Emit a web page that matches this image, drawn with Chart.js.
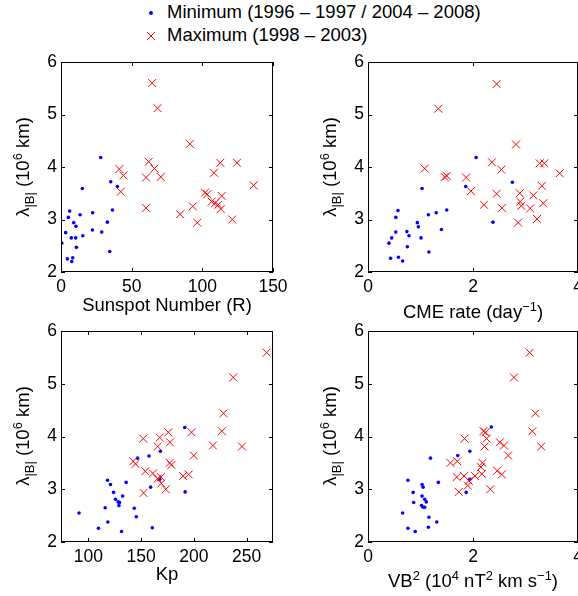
<!DOCTYPE html>
<html>
<head>
<meta charset="utf-8">
<script src="https://cdn.jsdelivr.net/npm/chart.js@4.4.1/dist/chart.umd.min.js"></script>
<style>
    html, body { margin: 0; padding: 0; background: #fff; overflow: hidden; }
    body { width: 578px; height: 596px; position: relative; font-family: "Liberation Sans", Arial, sans-serif; color: #000; }
    canvas { position: absolute; }
    .lbl { position: absolute; white-space: nowrap; font-size: 18.5px; line-height: 18px; }
    .lbl sup { font-size: 70%; vertical-align: 0; position: relative; top: -0.55em; }
    .lbl sub { font-size: 70%; vertical-align: 0; position: relative; top: 0.35em; }
    .ylbl { transform: translate(-50%, -50%) rotate(-90deg); }
    .xlbl { transform: translateX(-50%); }
    .dot { position: absolute; width: 4px; height: 4px; border-radius: 50%; background: #0000ff; }
    .cross { position: absolute; width: 8px; height: 8px; }
    .frame { position: absolute; box-sizing: border-box; border: 1px solid #000; }
    .tick { position: absolute; background: #000; }
</style>
</head>
<body>

<div class="dot" style="left:149px; top:11px"></div>
<svg class="cross" style="left:147px; top:32px" viewBox="0 0 8 8"><path d="M0 0L8 8M8 0L0 8" stroke="#ff0000" stroke-width="1"/></svg>
<div class="lbl" style="left:167px; top:3px">Minimum (1996 – 1997 / 2004 – 2008)</div>
<div class="lbl" style="left:167px; top:26px">Maximum (1998 – 2003)</div>

<canvas id="c1"></canvas>
<canvas id="c2"></canvas>
<canvas id="c3"></canvas>
<canvas id="c4"></canvas>

<script>
// y axis is the same for all four panels
const yTicks = [2, 3, 4, 5, 6]

// panel 1 : sunspot number
const sunspotTicks = [0, 50, 100, 150]
const sunspotMin = [[0.5,2.55],[3.3,2.75],[4.5,2.25],[5.2,3.04],[6.1,3.16],[7.3,2.65],[7.6,2.20],[8.3,2.27],[9.0,2.94],[10.4,2.65],[10.6,2.87],[10.9,2.47],[13.5,3.09],[15.1,3.59],[15.4,2.69],[22.2,2.80],[22.4,3.13],[28.1,4.18],[28.8,2.76],[32.8,2.95],[34.5,2.39],[35.2,3.72],[36.4,3.18],[39.9,3.63]]
const sunspotMax = [[64.5,5.60],[68.3,5.12],[91.2,4.44],[62.1,4.10],[66.1,3.97],[41.3,3.96],[44.2,3.84],[60.2,3.80],[70.6,3.81],[42.3,3.53],[60.2,3.22],[84.3,3.10],[93.2,3.25],[96.4,2.94],[108.3,3.89],[112.7,4.08],[124.5,4.08],[136.3,3.65],[101.9,3.51],[103.5,3.48],[106.6,3.34],[109.0,3.31],[111.3,3.28],[113.7,3.45],[113.0,3.20],[121.2,3.00]]

// panel 2 : CME rate
const cmeTicks = [0, 2, 4]
const cmeMin = [[0.40,2.55],[0.43,2.26],[0.45,2.65],[0.53,3.04],[0.53,2.76],[0.57,3.17],[0.58,2.28],[0.66,2.21],[0.74,2.77],[0.75,2.48],[0.78,2.69],[0.94,2.94],[0.96,2.86],[1.01,2.65],[1.03,3.59],[1.15,3.09],[1.16,2.38],[1.30,3.13],[1.40,2.81],[1.50,3.18],[1.86,3.63],[2.06,4.18],[2.38,2.95],[2.75,3.71]]
const cmeMax = [[1.08,3.97],[1.34,5.11],[1.46,3.81],[1.50,3.83],[1.87,3.80],[1.96,3.54],[2.21,3.28],[2.36,4.09],[2.45,5.58],[2.45,3.49],[2.54,3.95],[2.55,3.22],[2.82,4.43],[2.86,2.94],[2.89,3.50],[2.90,3.34],[2.92,3.26],[3.09,3.21],[3.15,3.46],[3.22,3.01],[3.27,4.07],[3.36,4.07],[3.31,3.64],[3.34,3.31],[3.65,3.88]]

// panel 3 : Kp
const kpTicks = [100, 150, 200, 250]
const kpMin = [[91.1,2.55],[109.5,2.26],[115.9,2.65],[118.1,3.17],[118.4,2.38],[120.9,3.09],[123.8,2.94],[125.7,2.81],[128.2,2.76],[128.9,2.69],[131.4,2.20],[132.4,2.87],[135.8,3.13],[143.5,2.64],[145.4,2.48],[146.6,3.59],[157.4,3.63],[159.0,3.04],[160.6,2.27],[168.2,3.72],[167.6,3.19],[191.3,4.17],[191.7,2.95],[129.5,2.75]]
const kpMax = [[269.0,5.59],[237.3,5.12],[228.1,4.44],[226.5,4.10],[197.7,4.08],[175.8,4.08],[152.0,3.96],[167.6,3.98],[177.4,3.89],[165.7,3.81],[218.0,3.83],[245.6,3.81],[199.9,3.64],[142.5,3.53],[144.7,3.48],[177.1,3.50],[178.7,3.46],[153.9,3.34],[161.2,3.30],[168.8,3.23],[165.5,3.20],[169.1,3.11],[173.3,3.00],[189.8,3.25],[195.1,3.28],[152.3,2.93]]

// panel 4 : VB^2
const vbTicks = [0, 2, 4]
const vbMin = [[0.66,2.55],[0.76,3.17],[0.76,2.26],[0.86,2.94],[0.87,2.75],[0.90,2.20],[1.03,3.09],[1.05,3.04],[1.03,2.87],[1.02,2.69],[1.05,2.66],[1.08,2.66],[1.08,2.81],[1.11,2.76],[1.16,2.47],[1.15,2.28],[1.19,3.59],[1.31,2.38],[1.34,3.13],[1.71,3.64],[1.87,2.94],[1.94,3.72],[1.94,3.19],[2.35,4.18]]
const vbMax = [[3.08,5.59],[2.78,5.12],[3.19,4.44],[3.13,4.10],[3.30,3.81],[1.84,3.96],[2.20,4.10],[2.24,4.08],[2.26,3.96],[2.22,3.81],[2.51,3.89],[2.59,3.83],[2.67,3.64],[1.57,3.50],[1.70,3.53],[2.18,3.50],[2.15,3.42],[2.17,3.29],[2.46,3.35],[2.55,3.28],[1.69,3.23],[1.83,3.25],[1.92,3.16],[2.04,3.25],[1.90,3.07],[1.73,2.95],[2.33,3.00]]

const tickFont = { family: '"Liberation Sans", Arial, sans-serif', size: 17.5 }

function toPoints(arr) {
    return arr.map(p => ({ x: p[0], y: p[1] }))
}

function addDiv(cls, left, top, w, h) {
    const d = document.createElement('div')
    d.className = cls
    d.style.left = left + 'px'
    d.style.top = top + 'px'
    d.style.width = w + 'px'
    d.style.height = h + 'px'
    document.body.appendChild(d)
}

// matlab style box with short inward ticks, placed from the chart's own area and scales
function drawFrame(chart, offX, offY) {
    const a = chart.chartArea
    const xs = chart.scales.x, ys = chart.scales.y
    const l = offX + Math.round(a.left), r = offX + Math.round(a.right)
    const t = offY + Math.round(a.top), b = offY + Math.round(a.bottom)
    const len = 4
    addDiv('frame', l, t, r - l, b - t)
    xs.ticks.forEach(tk => {
        const px = offX + Math.round(xs.getPixelForValue(tk.value))
        addDiv('tick', px, b - len, 1, len)
        addDiv('tick', px, t, 1, len)
    })
    ys.ticks.forEach(tk => {
        const py = offY + Math.round(ys.getPixelForValue(tk.value))
        addDiv('tick', l, py, len, 1)
        addDiv('tick', r - len, py, len, 1)
    })
}

// L,T,R,B = where the plot box sits on the page
function makePanel(id, box, minPts, maxPts, xMin, xMax, xTicks) {
    const cv = document.getElementById(id)
    const offX = box.L - 61
    const offY = box.T - 16
    cv.width = (box.R - box.L) + 81
    cv.height = (box.B - box.T) + 16 + 55
    cv.style.left = offX + 'px'
    cv.style.top = offY + 'px'

    const chart = new Chart(cv.getContext('2d'), {
        type: 'scatter',
        data: {
            datasets: [{
                data: toPoints(maxPts),
                pointStyle: 'crossRot',
                pointRadius: 5.6,
                borderColor: '#ff0000',
                borderWidth: 1,
                backgroundColor: '#ff0000'
            }, {
                data: toPoints(minPts),
                pointStyle: 'circle',
                pointRadius: 1.8,
                borderWidth: 0,
                backgroundColor: '#0000ff'
            }]
        },
        options: {
            responsive: false,
            animation: false,
            events: [],
            layout: { padding: { top: 16, left: 0, right: 20, bottom: 0 } },
            scales: {
                x: {
                    type: 'linear',
                    min: xMin,
                    max: xMax,
                    afterBuildTicks: s => { s.ticks = xTicks.map(v => ({ value: v })) },
                    afterFit: s => { s.height = 55 },
                    grid: { display: false, drawTicks: false },
                    border: { display: false },
                    ticks: { color: '#000', font: tickFont, padding: 5, maxRotation: 0 }
                },
                y: {
                    type: 'linear',
                    min: 2,
                    max: 6,
                    afterBuildTicks: s => { s.ticks = yTicks.map(v => ({ value: v })) },
                    afterFit: s => { s.width = 61 },
                    grid: { display: false, drawTicks: false },
                    border: { display: false },
                    ticks: { color: '#000', font: tickFont, padding: 4 }
                }
            },
            plugins: {
                legend: { display: false },
                tooltip: { enabled: false }
            }
        }
    })
    drawFrame(chart, offX, offY)
}

makePanel('c1', { L: 61, T: 62, R: 273, B: 272 }, sunspotMin, sunspotMax, 0, 150, sunspotTicks)
makePanel('c2', { L: 368, T: 62, R: 578, B: 272 }, cmeMin, cmeMax, 0, 4, cmeTicks)
makePanel('c3', { L: 61, T: 331, R: 273, B: 542 }, kpMin, kpMax, 74, 275, kpTicks)
makePanel('c4', { L: 368, T: 331, R: 578, B: 542 }, vbMin, vbMax, 0, 4, vbTicks)
</script>

<!-- axis titles -->
<div class="lbl ylbl" style="left:24px; top:167px">λ<sub>|B|</sub> (10<sup>6</sup> km)</div>
<div class="lbl ylbl" style="left:331px; top:167px">λ<sub>|B|</sub> (10<sup>6</sup> km)</div>
<div class="lbl ylbl" style="left:24px; top:436px">λ<sub>|B|</sub> (10<sup>6</sup> km)</div>
<div class="lbl ylbl" style="left:331px; top:436px">λ<sub>|B|</sub> (10<sup>6</sup> km)</div>

<div class="lbl xlbl" style="left:167px; top:296px">Sunspot Number (R)</div>
<div class="lbl xlbl" style="left:473px; top:303px">CME rate (day<sup>−1</sup>)</div>
<div class="lbl xlbl" style="left:167px; top:565px">Kp</div>
<div class="lbl xlbl" style="left:473px; top:572px">VB<sup>2</sup> (10<sup>4</sup> nT<sup>2</sup> km s<sup>−1</sup>)</div>
</body>
</html>
